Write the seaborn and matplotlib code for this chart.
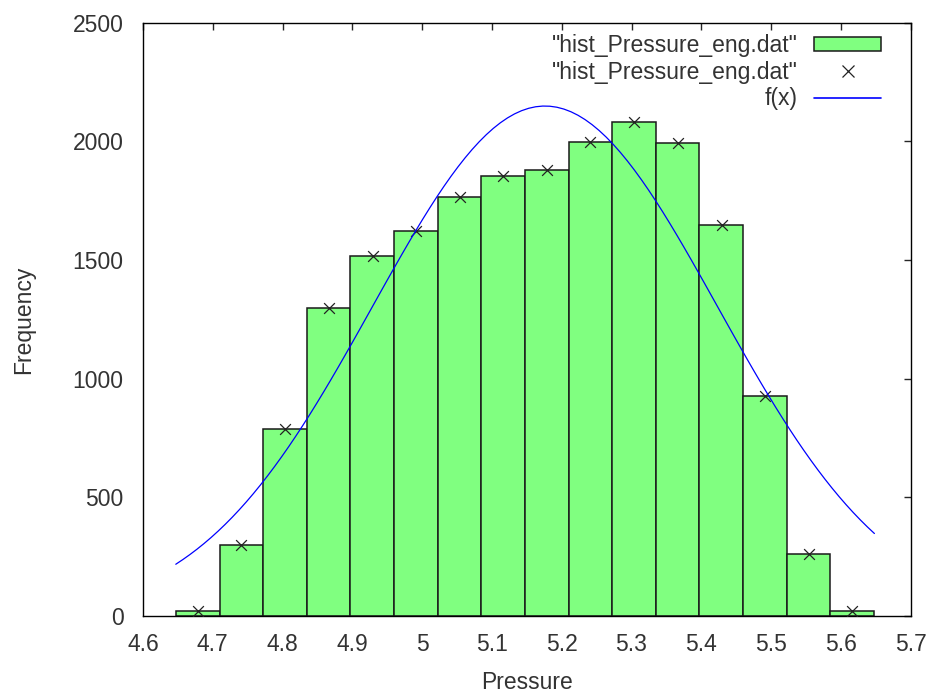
import numpy as np
import pandas as pd
import seaborn as sns
import matplotlib
matplotlib.use("Agg")
import matplotlib.pyplot as plt
from matplotlib.patches import Patch
from matplotlib.lines import Line2D

# histogram
bin_centers = [4.679, 4.741, 4.804, 4.866, 4.929, 4.991, 5.054, 5.116,
               5.179, 5.241, 5.304, 5.366, 5.429, 5.491, 5.554, 5.616]
counts = [22, 298, 789, 1296, 1517, 1624, 1767, 1855,
          1880, 1999, 2080, 1993, 1648, 926, 260, 22]
bin_width = 0.0625
bin_lo, bin_hi = 4.6473, 5.6473

# fitted gaussian f(x) = a*exp(-(x-mu)^2/(2 s^2))
fit_a, fit_mu, fit_s = 2149.0, 5.176, 0.2473
fit_lo, fit_hi = 4.647, 5.648

x_ticks = [4.6, 4.7, 4.8, 4.9, 5.0, 5.1, 5.2, 5.3, 5.4, 5.5, 5.6, 5.7]
x_ticklabels = ["4.6", "4.7", "4.8", "4.9", "5", "5.1", "5.2", "5.3", "5.4", "5.5", "5.6", "5.7"]
y_ticks = [0, 500, 1000, 1500, 2000, 2500]

legend_labels = ['"hist_Pressure_eng.dat"', '"hist_Pressure_eng.dat"', "f(x)"]

green = "#80ff80"
blue = "#0000ff"

df = pd.DataFrame({"Pressure": bin_centers, "Frequency": counts})
xs = np.linspace(fit_lo, fit_hi, 100)
fit = pd.DataFrame({"x": xs, "y": fit_a * np.exp(-(xs - fit_mu) ** 2 / (2 * fit_s ** 2))})

sns.set_style("white")
plt.rcParams["font.family"] = ["Liberation Sans", "DejaVu Sans"]
plt.rcParams["font.size"] = 16.5
plt.rcParams["axes.linewidth"] = 1.0
plt.rcParams["axes.edgecolor"] = "black"

fig = plt.figure(figsize=(9.29, 6.97), dpi=100)
ax = fig.add_axes([0.1539, 0.1162, 0.9803 - 0.1539, 0.9674 - 0.1162])

sns.histplot(data=df, x="Pressure", weights="Frequency", binwidth=bin_width,
             binrange=(bin_lo, bin_hi), color=green, alpha=1.0,
             edgecolor="#1a1a1a", linewidth=1.1, ax=ax)
sns.scatterplot(data=df, x="Pressure", y="Frequency", marker="x", color="#222222",
                s=60, linewidth=0.9, ax=ax, zorder=3)
sns.lineplot(data=fit, x="x", y="y", color=blue, linewidth=0.9, ax=ax, zorder=4)

ax.set_xlim(4.6, 5.7)
ax.set_ylim(0, 2500)
ax.set_xticks(x_ticks)
ax.set_xticklabels(x_ticklabels)
ax.set_yticks(y_ticks)
ax.tick_params(direction="in", length=5, width=1, top=True, right=True,
               labelsize=16.5, labelcolor="#333333", pad=12)
ax.tick_params(axis="y", pad=14)
for sp in ax.spines.values():
    sp.set_visible(True)
    sp.set_color("black")

ax.set_xlabel("Pressure", fontsize=16.5, color="#333333", labelpad=11)
ax.set_ylabel("Frequency", fontsize=16.5, color="#333333", labelpad=27)

handles = [Patch(facecolor=green, edgecolor="#1a1a1a", linewidth=1.1),
           Line2D([], [], marker="x", linestyle="none", color="#222222",
                  markersize=8, markeredgewidth=0.9),
           Line2D([], [], color=blue, linewidth=1.2)]
leg = ax.legend(handles, legend_labels, loc="upper right", frameon=False,
                markerfirst=False, handlelength=2.9, handleheight=0.52,
                handletextpad=0.74, labelspacing=0.16, borderaxespad=0.3,
                fontsize=16.5, bbox_to_anchor=(0.982, 1.008))
for t in leg.get_texts():
    t.set_color("#333333")

fig.savefig("out.png", dpi=100)
